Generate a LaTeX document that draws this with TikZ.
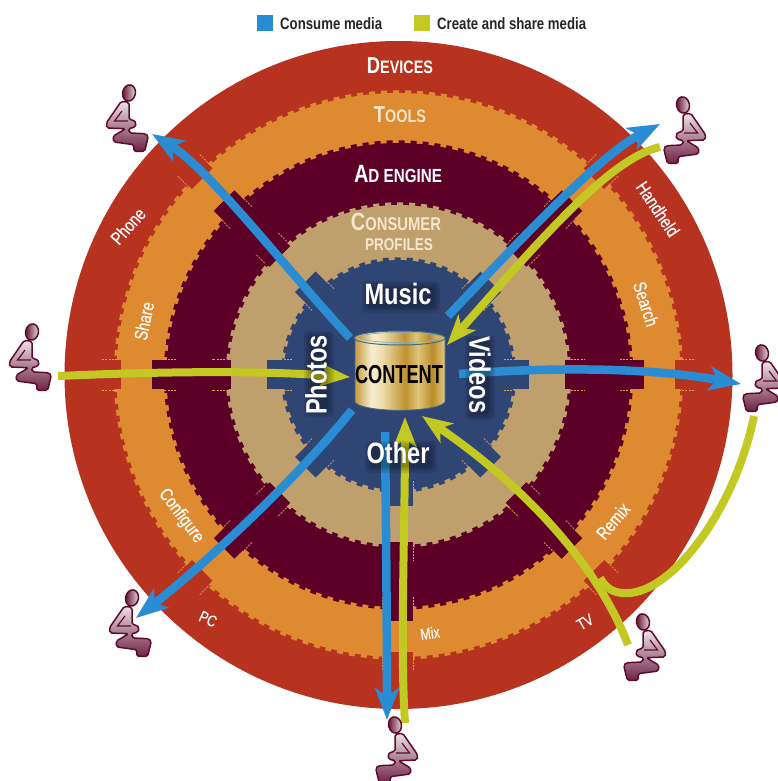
\documentclass[tikz,border=0pt]{standalone}
\usepackage{fontspec}
\setmainfont{Liberation Sans}
\newfontfamily\narrowfont[FakeStretch=0.8]{Liberation Sans}
\newfontfamily\slimfont[FakeStretch=0.7]{Liberation Sans}
\newfontfamily\ringfont[FakeStretch=0.78,FakeBold=0.3]{Liberation Sans}
\usetikzlibrary{arrows.meta}
\definecolor{redc}{HTML}{B83220}
\definecolor{orangec}{HTML}{DD8A30}
\definecolor{maroonc}{HTML}{5C0028}
\definecolor{beigec}{HTML}{BF9F6C}
\definecolor{navyc}{HTML}{2F4574}
\definecolor{bluec}{HTML}{2A8CD2}
\definecolor{greenc}{HTML}{C3C822}
\definecolor{creamc}{HTML}{F3E6CC}
\definecolor{tickc}{HTML}{E0A050}
\definecolor{figc}{HTML}{5E0A2E}
\definecolor{rimc}{HTML}{3F6F86}
\definecolor{golda}{HTML}{C69A3A}
\definecolor{goldb}{HTML}{F6EDD2}
\definecolor{goldc}{HTML}{EEDDAE}
\definecolor{goldd}{HTML}{C0922F}
\definecolor{golde}{HTML}{E0C47A}
\definecolor{goldf}{HTML}{B98C2A}
\definecolor{goldg}{HTML}{E0C880}
\pgfdeclarehorizontalshading{goldbody}{100bp}{color(0bp)=(golda); color(25bp)=(golda); color(34bp)=(goldb); color(40bp)=(goldc); color(53bp)=(goldd); color(60bp)=(golde); color(68bp)=(goldf); color(75bp)=(goldg); color(100bp)=(goldg)}
\tikzset{
 disc/.style={line width=3.5pt,dash pattern=on 6pt off 6pt},
 flangetick/.style={tickc,line width=.7pt,dash pattern=on 2pt off 1.2pt},
 bluearrow/.style={bluec,line width=8.5pt,-{Stealth[length=32pt,width=24pt,inset=8pt]}},
 greenarrow/.style={greenc,line width=8pt,-{Stealth[length=30pt,width=23pt,inset=8pt]}},
 greenline/.style={greenc,line width=8pt},
 ringlabel/.style={text=white,font=\ringfont\fontsize{18.5}{18.5}\selectfont,inner sep=0pt},
 smalllabel/.style={text=white,font=\ringfont\fontsize{16}{16}\selectfont,inner sep=0pt},
 ringtitle/.style={text=white,font=\narrowfont\bfseries,inner sep=0pt,align=center},
 medialabel/.style={text=white,font=\narrowfont\bfseries\fontsize{29.5}{30}\selectfont,inner sep=0pt},
 legendlabel/.style={text=black!85,font=\narrowfont\bfseries\fontsize{16.5}{16.5}\selectfont,inner sep=0pt,anchor=west},
 person/.pic={
  \draw[figc,line width=1.5pt,rounded corners=1.8pt,top color=white!88!figc,bottom color=figc!90!white]
   (0,9.3)--(7.7,8.3)--(22.7,30)--(22,35)--(3.3,35.7)--(16,43.3)--(15.3,49)--(-5,51.7)--(-4.7,58.3)
   --(-15.7,58.3)--(-19.3,43.3)--(-16.7,40.7)--(-.7,40)--(.7,35.7)--(-6,34.3)--(-7.3,30)--(-4,26.7)--(0,26.7)--cycle;
  \draw[figc,line width=1.2pt] (7,18)--(14.5,28)--(1,28);
  \draw[figc,line width=1.5pt,left color=figc,right color=white!88!figc,rotate=12] (0,0) ellipse (6.4pt and 8.2pt);
 }
}
\newcommand{\softshade}[5]{%
 \begin{scope}[shift={(#1,#2)},rotate=#5]
  \foreach \g in {0,2,4,6}{\fill[black,opacity=.09,rounded corners=4pt]
    (-#3-3+\g,-#4-3+\g) rectangle (#3+7-\g,#4+7-\g);}
 \end{scope}}
\begin{document}
\begin{tikzpicture}[x=1pt,y=-1pt]
\useasboundingbox (0,0) rectangle (778,781);
% rings
\coordinate (ctr) at (398.5,375);
\fill[redc] (ctr) circle (334pt);
\fill[orangec] (ctr) circle (282pt);
\draw[orangec,disc] (ctr) circle (283pt);
\fill[maroonc] (ctr) circle (232pt);
\draw[maroonc,disc] (ctr) circle (233pt);
\fill[beigec] (ctr) circle (170pt);
\draw[beigec,disc] (ctr) circle (171pt);
\fill[navyc] (ctr) circle (115pt);
\draw[navyc,disc] (ctr) circle (116pt);
% flanges
\foreach \a in {0,45,135,180,225,270,315}{
 \begin{scope}[shift={(398,374.5)},rotate=\a]
  \fill[redc] (277,-14.5) rectangle (300,14.5);
  \fill[maroonc] (167,-14.5) rectangle (246,14.5);
  \fill[navyc] (100,-14.5) rectangle (131,14.5);
  \foreach \s in {-15.5,15.5}{
   \draw[flangetick] (281,\s)--(297,\s);
   \draw[flangetick] (222,\s)--(235,\s);
   \draw[flangetick] (173,\s)--(186,\s);
   \draw[flangetick] (106,\s)--(118,\s);
  }
 \end{scope}}
% legend
\node[fill=bluec,minimum size=16pt,inner sep=0pt] (swb) at (264.5,23) {};
\node[fill=greenc,minimum size=16pt,inner sep=0pt] (swg) at (422,23) {};
\node[legendlabel] (lb) at (280,24) {Consume media};
\node[legendlabel] (lg) at (437,24) {Create and share media};
% connector ends
\coordinate (b1s) at (350,338); \coordinate (b1e) at (152,134);
\coordinate (b2s) at (448,316); \coordinate (b2e) at (660,124);
\coordinate (b3s) at (459,374); \coordinate (b3e) at (741,384);
\coordinate (b4s) at (385,432); \coordinate (b4e) at (387,720);
\coordinate (b5s) at (352,410); \coordinate (b5e) at (136,618);
\coordinate (g1s) at (660,147); \coordinate (g1e) at (447,345);
\coordinate (g2s) at (58,376);  \coordinate (g2e) at (350,377);
\coordinate (g3s) at (754,416); \coordinate (g3e) at (600,578);
\coordinate (g4s) at (628,645); \coordinate (g4e) at (422,416);
\coordinate (g5s) at (405,723); \coordinate (g5e) at (405,417);
% arrows
\draw[bluearrow] (b1s) .. controls (280,262) and (210,170) .. (b1e);
\draw[bluearrow] (b2s) .. controls (520,240) and (600,155) .. (b2e);
\draw[bluearrow] (b3s) .. controls (540,368) and (640,366) .. (b3e);
\draw[bluearrow] (b4s) .. controls (386,520) and (387,640) .. (b4e);
\draw[bluearrow] (b5s) .. controls (300,475) and (210,560) .. (b5e);
\draw[greenarrow] (g1s) .. controls (610,158) and (540,240) .. (g1e);
\draw[greenarrow] (g2s) .. controls (150,372) and (250,370) .. (g2e);
\draw[greenline] (g3s) .. controls (735,510) and (670,598) .. (622,593) .. controls (610,592) and (604,585) .. (g3e);
\draw[greenarrow] (g4s) .. controls (600,570) and (530,490) .. (g4e);
\draw[greenarrow] (g5s) .. controls (400,650) and (405,530) .. (g5e);
% cylinder
\path[shading=goldbody,draw=rimc,line width=.8pt] (355,338) -- (355,402) .. controls (362,413) and (437,413) .. (445,402) -- (445,338) -- cycle;
\path[shading=goldbody,draw=rimc,line width=1pt] (399.7,338) ellipse (45.5pt and 7pt);
\path[shading=goldbody,draw=rimc!60!white,line width=.6pt] (399.7,337.5) ellipse (41pt and 5pt);
\node[text=black,font=\slimfont\bfseries\fontsize{26}{26}\selectfont,inner sep=0pt] (cyl) at (399,375) {CONTENT};
% soft shadows under the media labels
\softshade{399}{295}{34}{11}{0}
\softshade{482}{376}{37}{10}{-90}
\softshade{317}{376}{38}{10}{90}
\softshade{399}{455}{31}{11}{0}
% media labels
\node[medialabel] (music) at (398,294) {Music};
\node[medialabel,rotate=-90] (videos) at (480,375) {Videos};
\node[medialabel,rotate=90] (photos) at (316,375) {Photos};
\node[medialabel] (other) at (398,453) {Other};
% ring titles
\node[ringtitle,font=\narrowfont\bfseries\fontsize{23}{23}\selectfont] (dev) at (400,66) {D\fontsize{18}{18}\selectfont EVICES};
\node[ringtitle,text=creamc,font=\narrowfont\bfseries\fontsize{23}{23}\selectfont] (tools) at (400,115) {T\fontsize{18}{18}\selectfont OOLS};
\node[ringtitle,font=\narrowfont\bfseries\fontsize{25}{25}\selectfont] (ad) at (398,174) {A\fontsize{19}{19}\selectfont D ENGINE};
\node[ringtitle,text=creamc,font=\narrowfont\bfseries\fontsize{25}{25}\selectfont] (cons) at (396,222) {C\fontsize{18.5}{18.5}\selectfont ONSUMER};
\node[ringtitle,text=creamc,font=\narrowfont\bfseries\fontsize{17}{17}\selectfont] (prof) at (399,245) {PROFILES};
% ring labels
\node[ringlabel,rotate=48] (phone) at (128,226) {Phone};
\node[ringlabel,rotate=-56] (hand) at (658,209) {Handheld};
\node[ringlabel,rotate=78] (share) at (144,321) {Share};
\node[ringlabel,rotate=-72] (search) at (646,304) {Search};
\node[ringlabel,rotate=-53] (conf) at (181,516) {Configure};
\node[ringlabel,rotate=50] (remix) at (613,521) {Remix};
\node[smalllabel,rotate=-25] (pc) at (208,619) {PC};
\node[smalllabel,rotate=30] (tv) at (585,622) {TV};
\node[smalllabel,rotate=8] (mix) at (430,633) {Mix};
% people
\pic[xscale=-1] at (129,93) {person};
\pic at (683,105) {person};
\pic[xscale=-1] at (32,332) {person};
\pic at (762,353) {person};
\pic[xscale=-1] at (132,598) {person};
\pic at (643,622) {person};
\pic at (395,725) {person};
\end{tikzpicture}
\end{document}
